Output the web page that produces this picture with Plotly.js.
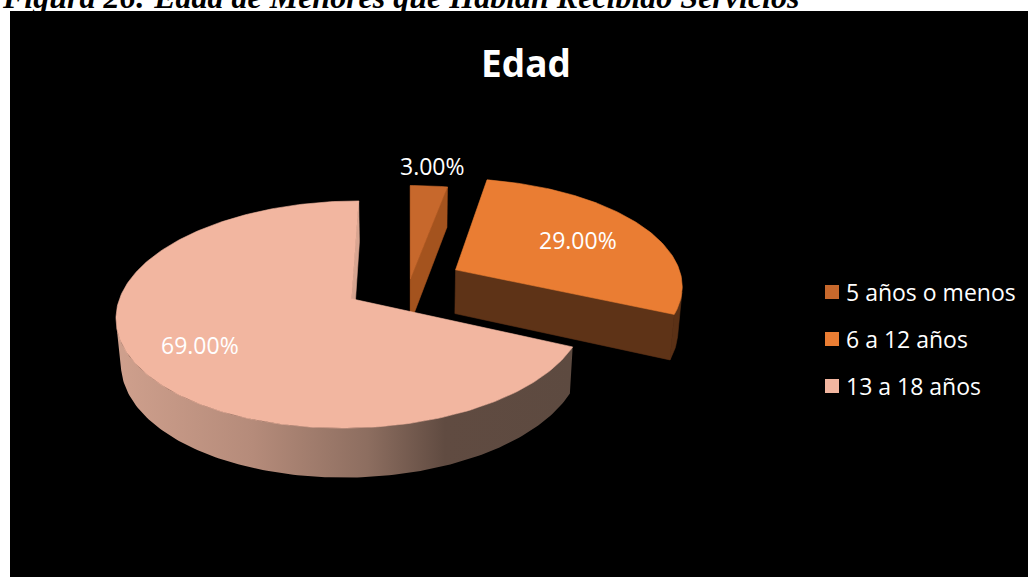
<!DOCTYPE html>
<html>
<head>
<meta charset="utf-8">
<script src="https://cdn.plot.ly/plotly-3.0.1.min.js"></script>
<style>
  html, body { margin: 0; padding: 0; background: #ffffff; overflow: hidden; }
  #chart { width: 1028px; height: 577px; }
</style>
</head>
<body>
<div id="chart"></div>
<script>
// Age groups of the children who received services, in percent
const categories = ['5 años o menos', '6 a 12 años', '13 a 18 años'];
const shares = [3.00, 29.00, 69.00];

// Slice styling
const topColors  = ['#C7682C', '#EA7D33', '#F2B6A0'];
const cutColors  = ['#A4531E', '#5E3317', '#D8A591'];   // flat radial cut faces
const wallColors = ['#A4531E', '#5B3116', null];         // null: shaded with a gradient
const wallGradient = [[0, '#CFA08D'], [0.3, '#B58B7A'], [0.55, '#8D6E60'], [0.72, '#604B41'], [1, '#5D4A40']];

// How far each slice is pulled out (in pie radii) and where its label sits
const pull = [0.02, 0.23, 0.30];
const labelRadius = [1.25, 0.65, 0.72];

// 3D view of the pie: screen centre, focal length, camera distance, tilt, slice thickness
const view = { cx: 410, cy: 281, f: 1482, dist: 6.53, tilt: 28 * Math.PI / 180, depth: 0.224 };

const W = 1028, H = 577;
const sinT = Math.sin(view.tilt), cosT = Math.cos(view.tilt);
const camPos = [0, view.dist * sinT, -view.dist * cosT];

// world: x to the right, y up, z away from the viewer
function proj(p) {
  const zc = view.dist - p[1] * sinT + p[2] * cosT;
  const yc = p[1] * cosT + p[2] * sinT;
  return [view.cx + view.f * p[0] / zc, view.cy - view.f * yc / zc];
}
function facing(n, p) {
  return n[0] * (camPos[0] - p[0]) + n[1] * (camPos[1] - p[1]) + n[2] * (camPos[2] - p[2]) > 0;
}

const total = shares.reduce((a, b) => a + b, 0);
let acc = 0;
const slices = shares.map((v, i) => {
  const a0 = acc / total * 2 * Math.PI;
  acc += v;
  const a1 = acc / total * 2 * Math.PI;
  const mid = (a0 + a1) / 2;
  return { i, a0, a1, mid, ox: pull[i] * Math.sin(mid), oz: pull[i] * Math.cos(mid) };
});

const rim = (s, th, y) => [s.ox + Math.sin(th), y, s.oz + Math.cos(th)];
const hub = (s, y) => [s.ox, y, s.oz];
function arcAngles(a0, a1) {
  const n = Math.max(4, Math.ceil((a1 - a0) / (Math.PI / 180)));
  const out = [];
  for (let k = 0; k <= n; k++) out.push(a0 + (a1 - a0) * k / n);
  return out;
}

function poly(pts, color, gradient) {
  const xy = pts.map(proj);
  xy.push(xy[0]);
  const t = {
    type: 'scatter', mode: 'lines', fill: 'toself',
    x: xy.map(p => p[0]), y: xy.map(p => p[1]),
    hoverinfo: 'skip', showlegend: false
  };
  if (gradient) {
    t.fillgradient = { type: 'horizontal', colorscale: gradient };
    t.line = { width: 0 };
  } else {
    t.fillcolor = color;
    t.line = { width: 0.6, color: color };
  }
  return t;
}

// paint far slices first
const depthKey = s => {
  const th = arcAngles(s.a0, s.a1);
  return s.oz + th.reduce((a, t) => a + Math.cos(t), 0) / th.length;
};
const order = slices.slice().sort((p, q) => depthKey(q) - depthKey(p));

const traces = [];
const d = -view.depth;
order.forEach(s => {
  const th = arcAngles(s.a0, s.a1);

  // curved outer wall, only the part turned towards the camera
  let run = [];
  const runs = [];
  th.forEach(t => {
    const top = rim(s, t, 0);
    if (facing([Math.sin(t), 0, Math.cos(t)], top)) run.push(t);
    else if (run.length) { runs.push(run); run = []; }
  });
  if (run.length) runs.push(run);
  runs.forEach(r => {
    if (r.length < 2) return;
    const pts = r.map(t => rim(s, t, 0)).concat(r.slice().reverse().map(t => rim(s, t, d)));
    traces.push(poly(pts, wallColors[s.i], wallColors[s.i] ? null : wallGradient));
  });

  // radial cut faces
  const startN = [-Math.cos(s.a0), 0, Math.sin(s.a0)];
  const endN = [Math.cos(s.a1), 0, -Math.sin(s.a1)];
  if (facing(startN, hub(s, 0)))
    traces.push(poly([hub(s, 0), rim(s, s.a0, 0), rim(s, s.a0, d), hub(s, d)], cutColors[s.i]));
  if (facing(endN, hub(s, 0)))
    traces.push(poly([hub(s, 0), rim(s, s.a1, 0), rim(s, s.a1, d), hub(s, d)], cutColors[s.i]));

  // top face
  traces.push(poly([hub(s, 0)].concat(th.map(t => rim(s, t, 0))), topColors[s.i]));
});

// Legend swatches
const legendX = 832, legendY0 = 292, legendGap = 47;
traces.push({
  type: 'scatter', mode: 'markers',
  x: categories.map(() => legendX),
  y: categories.map((_, i) => legendY0 + i * legendGap),
  marker: { symbol: 'square', size: 14, color: topColors, line: { width: 0 } },
  hoverinfo: 'skip', showlegend: false, cliponaxis: false
});

const labelFont = { family: 'Open Sans, Noto Sans, sans-serif', size: 23, color: '#ffffff' };
const annotations = [];

// slice value labels
slices.forEach(s => {
  const r = labelRadius[s.i];
  const p = proj([s.ox + r * Math.sin(s.mid), 0, s.oz + r * Math.cos(s.mid)]);
  annotations.push({
    x: p[0], y: p[1], xref: 'x', yref: 'y', showarrow: false,
    text: shares[s.i].toFixed(2) + '%', font: labelFont,
    xanchor: 'center', yanchor: 'middle'
  });
});

// legend texts
categories.forEach((c, i) => {
  annotations.push({
    x: legendX + 12, y: legendY0 + i * legendGap, xref: 'x', yref: 'y', showarrow: false,
    text: c, font: labelFont, xanchor: 'left', yanchor: 'middle'
  });
});

// chart title
annotations.push({
  x: 526, y: 62, xref: 'x', yref: 'y', showarrow: false,
  text: '<b>Edad</b>', font: { family: 'Open Sans, Noto Sans, sans-serif', size: 37, color: '#ffffff' },
  xanchor: 'center', yanchor: 'middle'
});

// figure caption above the chart
annotations.push({
  x: 0, y: 1, xref: 'paper', yref: 'paper', showarrow: false, yshift: 3,
  text: '<b><i>Figura 26: Edad de Menores que Habían Recibido Servicios</i></b>',
  font: { family: 'Liberation Serif, Times New Roman, serif', size: 32, color: '#000000' },
  xanchor: 'left', yanchor: 'middle'
});

const layout = {
  width: W, height: H,
  margin: { l: 0, r: 0, t: 0, b: 0 },
  paper_bgcolor: '#ffffff', plot_bgcolor: 'rgba(0,0,0,0)',
  xaxis: { range: [0, W], visible: false, fixedrange: true },
  yaxis: { range: [H, 0], visible: false, fixedrange: true },
  shapes: [{
    type: 'rect', xref: 'x', yref: 'y', x0: 10, x1: W, y0: 11, y1: H,
    fillcolor: '#000000', line: { width: 0 }, layer: 'below'
  }],
  annotations: annotations,
  showlegend: false
};

Plotly.newPlot('chart', traces, layout, { staticPlot: true, displayModeBar: false });
</script>
</body>
</html>
